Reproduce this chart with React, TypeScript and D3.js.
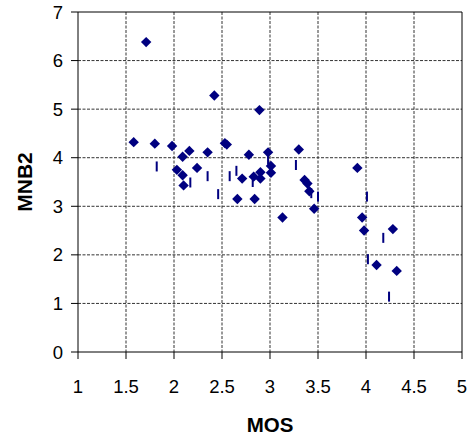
import React from "react";
import * as d3 from "d3";

const diamondX = [1.58, 1.71, 1.80, 1.98, 2.03, 2.09, 2.09, 2.10, 2.16, 2.24, 2.35, 2.42, 2.53, 2.55, 2.66, 2.71, 2.78, 2.83, 2.84, 2.89, 2.90, 2.90, 2.98, 3.01, 3.01, 3.13, 3.30, 3.36, 3.39, 3.41, 3.46, 3.91, 3.96, 3.98, 4.11, 4.28, 4.32];
const diamondY = [4.32, 6.38, 4.29, 4.24, 3.75, 4.02, 3.64, 3.43, 4.14, 3.79, 4.11, 5.28, 4.30, 4.27, 3.15, 3.57, 4.06, 3.61, 3.15, 4.98, 3.70, 3.57, 4.11, 3.83, 3.69, 2.77, 4.17, 3.54, 3.47, 3.31, 2.95, 3.79, 2.77, 2.50, 1.79, 2.53, 1.67];

const dashX = [1.82, 2.17, 2.35, 2.46, 2.58, 2.65, 2.82, 2.98, 3.27, 3.43, 3.50, 4.01, 4.02, 4.18, 4.24];
const dashY = [3.82, 3.49, 3.62, 3.25, 3.62, 3.73, 3.50, 3.96, 3.85, 3.27, 3.20, 3.20, 1.91, 2.35, 1.14];

const xTicks = [1, 1.5, 2, 2.5, 3, 3.5, 4, 4.5, 5];
const yTicks = [0, 1, 2, 3, 4, 5, 6, 7];

const xTitle = "MOS";
const yTitle = "MNB2";

export default function App() {
  const left = 78, right = 462, top = 12, bottom = 352;
  const x = d3.scaleLinear().domain([1, 5]).range([left, right]);
  const y = d3.scaleLinear().domain([0, 7]).range([bottom, top]);
  const navy = "#000080";
  const font = "'Liberation Sans', Arial, sans-serif";
  const r = 5.2;
  const diamond = d3.line()([[0, -r], [r, 0], [0, r], [-r, 0]]) + "Z";

  return (
    <svg width={472} height={442} style={{ position: "absolute", left: 0, top: 0, background: "#fff" }}>
      {/* gridlines */}
      {yTicks.filter(t => t > 0 && t < 7).map(t => (
        <line key={"gy" + t} x1={left} x2={right} y1={y(t)} y2={y(t)} stroke="#333" strokeDasharray="3,1.5" />
      ))}
      {xTicks.filter(t => t > 1 && t < 5).map(t => (
        <line key={"gx" + t} x1={x(t)} x2={x(t)} y1={top} y2={bottom} stroke="#333" strokeDasharray="3,1.5" />
      ))}
      {/* border */}
      <line x1={left} x2={right} y1={top} y2={top} stroke="#000" />
      <line x1={right} x2={right} y1={top} y2={bottom} stroke="#000" />
      {/* axes */}
      <line x1={left} x2={left} y1={top} y2={bottom} stroke="#000" />
      <line x1={left} x2={right} y1={bottom} y2={bottom} stroke="#000" />
      {yTicks.map(t => (
        <g key={"yt" + t}>
          <line x1={left - 7} x2={left} y1={y(t)} y2={y(t)} stroke="#000" />
          <text x={left - 15} y={y(t) + 6.5} textAnchor="end" fontFamily={font} fontSize={18.5} fill="#000">{t}</text>
        </g>
      ))}
      {xTicks.map(t => (
        <g key={"xt" + t}>
          <line x1={x(t)} x2={x(t)} y1={bottom} y2={bottom + 7} stroke="#000" />
          <text x={x(t)} y={393} textAnchor="middle" fontFamily={font} fontSize={18.5} fill="#000">{t}</text>
        </g>
      ))}
      <text x={(left + right) / 2} y={432} textAnchor="middle" fontFamily={font} fontSize={20.5} fontWeight="bold">{xTitle}</text>
      <text transform={`translate(32,${(top + bottom) / 2}) rotate(-90)`} textAnchor="middle" fontFamily={font} fontSize={21} fontWeight="bold">{yTitle}</text>
      {/* dash series */}
      {dashX.map((v, i) => (
        <rect key={"d" + i} x={x(v) - 1} y={y(dashY[i]) - 5} width={2} height={10} fill={navy} />
      ))}
      {/* diamond series */}
      {diamondX.map((v, i) => (
        <path key={"p" + i} d={diamond} transform={`translate(${x(v)},${y(diamondY[i])})`} fill={navy} />
      ))}
    </svg>
  );
}
